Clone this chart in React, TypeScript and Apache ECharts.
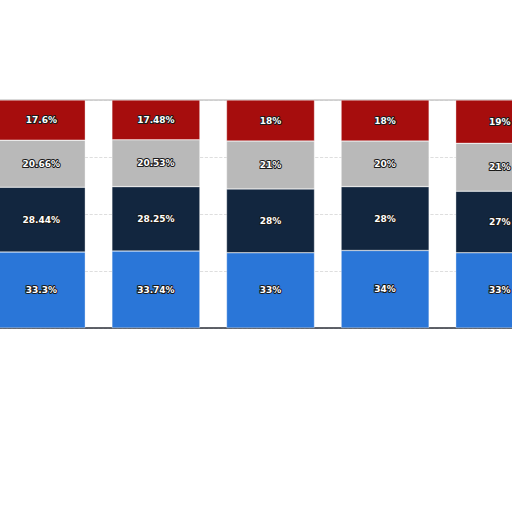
import React, { useEffect, useRef } from "react";
import * as echarts from "echarts";

const categories = ["A", "B", "C", "D", "E"];
const blueValues = [33.3, 33.74, 33, 34, 33];
const navyValues = [28.44, 28.25, 28, 28, 27];
const grayValues = [20.66, 20.53, 21, 20, 21];
const redValues = [17.6, 17.48, 18, 18, 19];
const seriesNames = ["Blue", "Navy", "Gray", "Red"];
const seriesColors = ["#2a76d8", "#12263f", "#b9b9b9", "#a60d0d"];

export default function App() {
  const ref = useRef<HTMLDivElement>(null);
  useEffect(() => {
    if (!ref.current) return;
    const chart = echarts.init(ref.current, null, { renderer: "svg" });
    const data = [blueValues, navyValues, grayValues, redValues];
    chart.setOption({
      animation: false,
      backgroundColor: "#ffffff",
      grid: { left: 0, right: 0, top: 100, bottom: 184, containLabel: false },
      xAxis: [
        {
          type: "category",
          data: categories,
          axisLine: { show: true, lineStyle: { color: "#2b2f38", width: 1.5 } },
          axisTick: { show: false },
          axisLabel: { show: false },
        },
        {
          type: "category",
          data: categories,
          position: "top",
          axisLine: { show: true, lineStyle: { color: "#c8c8c8", width: 1.5 } },
          axisTick: { show: false },
          axisLabel: { show: false },
        },
      ],
      yAxis: {
        type: "value",
        min: 0,
        max: 100,
        interval: 25,
        axisLabel: { show: false },
        axisLine: { show: false },
        axisTick: { show: false },
        splitLine: { show: true, lineStyle: { color: "#d6d6d6", type: "dashed", width: 0.8 } },
      },
      series: data.map((vals, i) => ({
        name: seriesNames[i],
        type: "bar",
        stack: "total",
        data: vals,
        barWidth: 88,
        itemStyle: { color: seriesColors[i], borderColor: "rgba(255,255,255,0.7)", borderWidth: 0.5 },
        label: {
          show: true,
          position: "inside",
          formatter: (p: any) => p.value + "%",
          color: "#ffffff",
          fontFamily: "DejaVu Sans",
          fontWeight: "bold",
          fontSize: 9,
          textBorderColor: "#1a1a1a",
          textBorderWidth: 2,
        },
      })),
    });
    return () => chart.dispose();
  }, []);
  return (
    <div style={{ position: "absolute", left: 0, top: 0, width: 512, height: 512, overflow: "hidden", background: "#fff" }}>
      <div ref={ref} style={{ position: "absolute", left: -16, top: 0, width: 573, height: 512 }} />
    </div>
  );
}
